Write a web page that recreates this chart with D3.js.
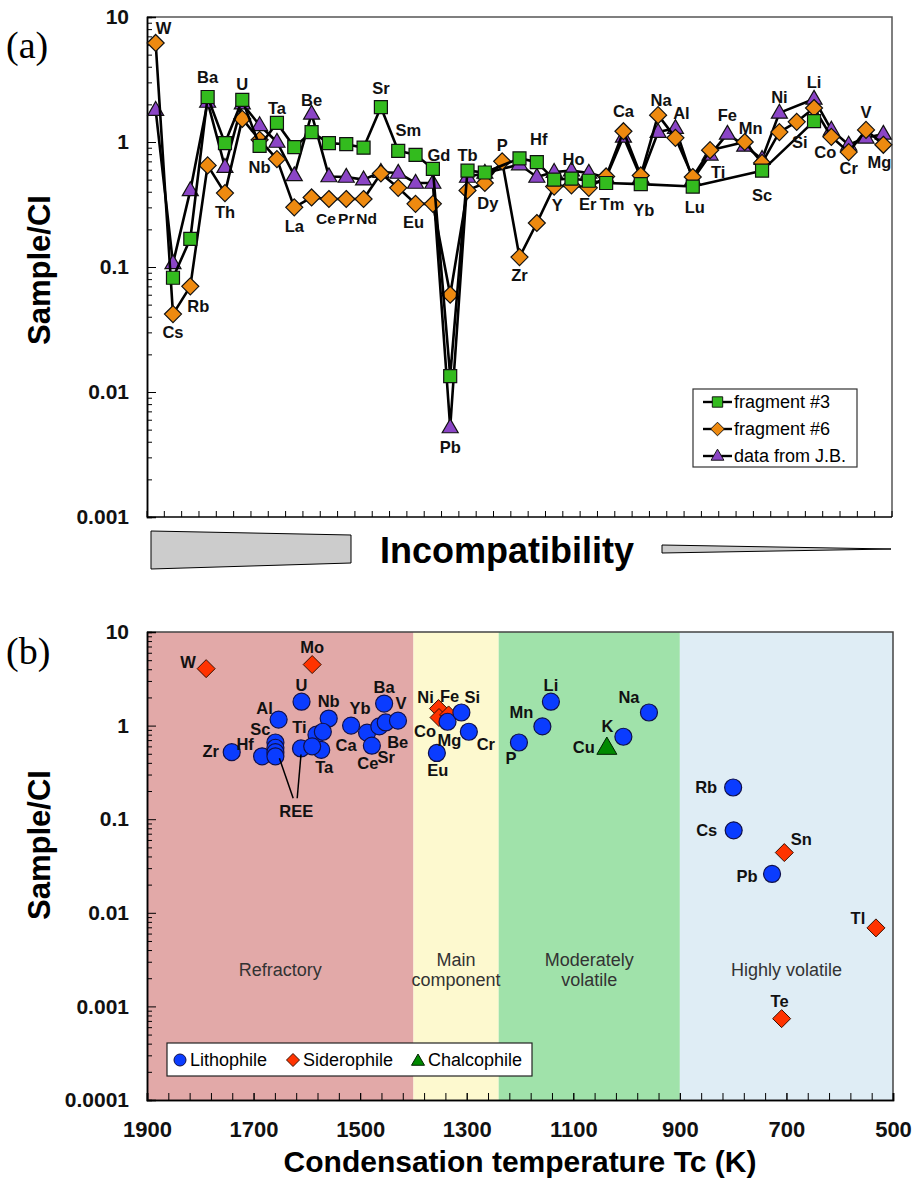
<!DOCTYPE html>
<html lang="en">
<head>
<meta charset="utf-8">
<style>
  body { margin: 0; background: #fff; }
  svg { font-family: "Liberation Sans", Arial, Helvetica, sans-serif; }
  .elab { font-size: 16.5px; font-weight: bold; fill: #111; }
  .ytick text, .xtick text { font-weight: bold; fill: #111; font-family: "Liberation Sans", Arial, sans-serif; }
  .domain { stroke: #000; stroke-width: 1.5px; }
  .tick line { stroke: #000; }
  .series-line { fill: none; stroke: #000; stroke-width: 2.6px; stroke-linejoin: round; }
  .region-label { font-size: 18px; fill: #333; }
</style>
</head>
<body>
<svg width="915" height="1178"></svg>
<script src="https://d3js.org/d3.v7.min.js"></script>
<script>

// ---------- panel (a): elements ordered by incompatibility ----------
var elements = ["W","Cs","Rb","Ba","Th","U","Nb","Ta","La","Be","Ce","Pr","Nd","Sr","Sm","Eu","Gd","Pb","Tb","Dy",
                "P","Zr","Hf","Y","Ho","Er","Tm","Ca","Yb","Na","Al","Lu","Ti","Fe","Mn","Sc","Ni","Si","Li","Co","Cr","V","Mg"];

var frag3 = [null,0.082,0.168,2.29,0.98,2.17,0.93,1.42,0.91,1.2,0.98,0.96,0.9,1.9,0.85,0.79,0.61,0.0134,0.59,0.57,
             null,0.74,0.69,0.50,0.51,0.49,0.47,null,0.46,null,null,0.44,null,null,null,0.59,null,null,1.47,null,null,null,null];

var frag6 = [6.2,0.042,0.07,0.65,0.39,1.53,1.04,0.73,0.30,0.36,0.35,0.35,0.35,0.56,0.43,0.32,0.32,0.06,0.41,0.47,
             0.70,0.12,0.225,0.44,0.45,0.43,0.53,1.22,0.54,1.64,1.08,0.525,0.86,null,1.0,0.68,1.2,1.45,1.87,1.1,0.83,1.25,0.95];

var jbData = [1.8,0.107,0.41,2.09,0.63,2.03,1.36,1.0,0.54,1.68,0.53,0.525,0.5,0.575,0.565,0.47,0.47,0.0052,0.525,0.565,
              null,0.66,0.525,0.575,0.59,0.565,0.52,1.1,0.52,1.2,1.29,0.5,0.79,1.16,0.93,0.73,1.71,null,2.21,1.25,0.95,1.08,1.16];

var seriesNames = ["fragment #3","fragment #6","data from J.B."];
var yTicksA = [10,1,0.1,0.01,0.001];
var yTickLabelsA = ["10","1","0.1","0.01","0.001"];

// ---------- panel (b): condensation temperature ----------
var lithoNames = ["Zr","Hf","Sc","Al","U","Ti","Nb","Ta","Ca","Yb","Ce","Sr","Ba","Be","V",
                  "REE","REE","REE","REE","REE","REE",
                  "Eu","Mg","Si","Cr","P","Mn","Li","K","Na","Rb","Cs","Pb"];
var lithoTc =    [1741,1684,1659,1653,1610,1582,1559,1573,1517,1487,1478,1464,1455,1452,1429,
                  1659,1659,1659,1611,1590,1570,
                  1356,1336,1310,1296,1202,1158,1142,1006,958,800,799,727];
var lithoVal =   [0.52,0.47,0.66,1.16,1.8,0.80,1.19,0.55,1.0,0.84,0.61,0.98,1.72,1.08,1.13,
                  0.58,0.52,0.47,0.57,0.60,0.86,
                  0.51,1.1,1.38,0.86,0.66,0.98,1.8,0.76,1.38,0.218,0.076,0.026];

var sideroNames = ["W","Mo","Ni","Co","Fe","Sn","Te","Tl"];
var sideroTc =    [1789,1590,1353,1352,1334,704,709,532];
var sideroVal =   [4.06,4.49,1.52,1.22,1.3,0.044,0.00074,0.0069];

var chalcoNames = ["Cu"];
var chalcoTc =    [1037];
var chalcoVal =   [0.58];

var regionNames = [["Refractory"],["Main","component"],["Moderately","volatile"],["Highly volatile"]];
var regionBounds = [[1900,1400],[1400,1240],[1240,900],[900,500]];
var regionColors = ["#e2a9a8","#fdf9cf","#a0e2aa","#dfedf5"];
var tempTicks = [1900,1700,1500,1300,1100,900,700,500];
var yTicksB = [10,1,0.1,0.01,0.001,0.0001];
var yTickLabelsB = ["10","1","0.1","0.01","0.001","0.0001"];
var groupNames = ["Lithophile","Siderophile","Chalcophile"];

// ---------- shapes ----------
function square(s) { return "M" + (-s) + "," + (-s) + "h" + 2*s + "v" + 2*s + "h" + (-2*s) + "Z"; }
function diamond(s) { return "M0," + (-s) + "L" + s + ",0L0," + s + "L" + (-s) + ",0Z"; }
function triangle(s) { var h = s * 1.732; return "M0," + (-h*0.62) + "L" + s + "," + (h*0.38) + "L" + (-s) + "," + (h*0.38) + "Z"; }

var svg = d3.select("svg");

// =====================================================================
// panel (a)
// =====================================================================
var xA = d3.scaleBand().domain(elements).range([147, 892]);
var yA = d3.scaleLog().domain([0.001, 10]).range([517, 17]);
function cx(e) { return xA(e) + xA.bandwidth() / 2; }

var gA = svg.append("g");

// frame (top/right)
gA.append("path").attr("d", "M147,17H892V517").attr("fill", "none").attr("stroke", "#555").attr("stroke-width", 1.5);

// y axis
var minorA = yA.ticks().filter(function (v) { return yTicksA.indexOf(v) < 0; });
gA.append("g").attr("class", "ytick").attr("transform", "translate(147,0)")
    .call(d3.axisLeft(yA).tickValues(minorA).tickSize(-5).tickFormat(""));
gA.append("g").attr("class", "ytick").attr("transform", "translate(147,0)")
    .call(d3.axisLeft(yA).tickValues(yTicksA).tickSize(-9).tickPadding(18)
        .tickFormat(function (d, i) { return yTickLabelsA[i]; }))
    .selectAll("text").style("font-size", "21px");

// x axis (ticks at category boundaries)
var bounds = elements.map(function (e) { return xA(e); }).concat([892]);
var gx = gA.append("g").attr("transform", "translate(0,517)");
gx.append("line").attr("x1", 147).attr("x2", 892).attr("stroke", "#000").attr("stroke-width", 1.5);
gx.selectAll("line.t").data(bounds).enter().append("line").attr("class", "t")
    .attr("x1", function (d) { return d; }).attr("x2", function (d) { return d; })
    .attr("y1", 0).attr("y2", -6).attr("stroke", "#000");

var seriesA = [
    { name: seriesNames[2], values: jbData, fill: "#8b45c6", shape: function () { return triangle(8); } },
    { name: seriesNames[1], values: frag6, fill: "#ee8a10", shape: function () { return diamond(8.5); } },
    { name: seriesNames[0], values: frag3, fill: "#33bb1e", shape: function () { return square(6.5); } }
];

var lineA = d3.line().x(function (d) { return cx(d.e); }).y(function (d) { return yA(d.v); });

seriesA.forEach(function (s) {
    var pts = elements.map(function (e, i) { return { e: e, v: s.values[i] }; })
        .filter(function (d) { return d.v != null; });
    gA.append("path").datum(pts).attr("class", "series-line").attr("d", lineA);
    gA.append("g").selectAll("path").data(pts).enter().append("path")
        .attr("transform", function (d) { return "translate(" + cx(d.e) + "," + yA(d.v) + ")"; })
        .attr("d", s.shape())
        .attr("fill", s.fill).attr("stroke", "#111").attr("stroke-width", 1.2);
});

// element labels: [dx, dy]; negative dy -> above highest point, positive -> below lowest
var labelPlaceA = {
    W:[8,-9], Cs:[0,24], Rb:[8,26], Ba:[0,-14], Th:[0,25], U:[0,-10], Nb:[0,27], Ta:[0,-9], La:[0,25],
    Be:[0,-8], Ce:[-3,25], Pr:[0,25], Nd:[3,25], Sr:[0,-13], Sm:[10,-15], Eu:[-2,24], Gd:[6,-8], Pb:[0,26],
    Tb:[0,-10], Dy:[3,26], P:[0,-10], Zr:[0,24], Hf:[2,-17], Y:[3,24], Ho:[2,-6], Er:[-1,22], Tm:[6,27],
    Ca:[0,-14], Yb:[3,32], Na:[3,-9], Al:[6,-9], Lu:[2,26], Ti:[8,23], Fe:[0,-13], Mn:[6,-8], Sc:[0,30],
    Ni:[0,-10], Si:[3,26], Li:[0,-11], Co:[-6,21], Cr:[0,22], V:[0,-12], Mg:[-4,23]
};
var tightA = ["Ce","Pr","Nd"];
gA.append("g").selectAll("text").data(elements).enter().append("text")
    .attr("class", "elab").attr("text-anchor", "middle")
    .style("font-size", function (e) { return tightA.indexOf(e) >= 0 ? "15.5px" : null; })
    .attr("x", function (e) { return cx(e) + labelPlaceA[e][0]; })
    .attr("y", function (e, i) {
        var vals = [frag3[i], frag6[i], jbData[i]].filter(function (v) { return v != null; });
        var off = labelPlaceA[e][1];
        return (off < 0 ? yA(d3.max(vals)) : yA(d3.min(vals))) + off;
    })
    .text(function (e) { return e; });

// legend (a)
var legA = gA.append("g");
legA.append("rect").attr("x", 693).attr("y", 389).attr("width", 164).attr("height", 78)
    .attr("fill", "#fff").attr("stroke", "#333").attr("stroke-width", 1.2);
[seriesA[2], seriesA[1], seriesA[0]].forEach(function (s, i) {
    var yy = 402 + i * 27;
    legA.append("line").attr("x1", 703).attr("x2", 732).attr("y1", yy).attr("y2", yy)
        .attr("stroke", "#000").attr("stroke-width", 2.4);
    legA.append("path").attr("transform", "translate(717.5," + yy + ") scale(0.8)")
        .attr("d", s.shape()).attr("fill", s.fill).attr("stroke", "#111").attr("stroke-width", 1.2);
    legA.append("text").attr("x", 734).attr("y", yy + 6).style("font-size", "18px").text(s.name);
});

// y title and panel tag
svg.append("text").attr("transform", "translate(50,270) rotate(-90)").attr("text-anchor", "middle")
    .style("font-size", "31px").style("font-weight", "bold").text("Sample/CI");
svg.append("text").attr("x", 6).attr("y", 58).style("font-family", "'Liberation Serif', 'Times New Roman', serif")
    .style("font-size", "38px").text("(a)");

// incompatibility arrow
svg.append("path").attr("d", "M151,531L351,535L351,563L151,569Z").attr("fill", "#cccccc").attr("stroke", "#000").attr("stroke-width", 1);
svg.append("path").attr("d", "M662,545L891,549L662,553Z").attr("fill", "#cccccc").attr("stroke", "#000").attr("stroke-width", 1);
svg.append("text").attr("x", 507).attr("y", 563).attr("text-anchor", "middle")
    .style("font-size", "36px").style("font-weight", "bold").text("Incompatibility");

// =====================================================================
// panel (b)
// =====================================================================
var xB = d3.scaleLinear().domain([1900, 500]).range([147, 893]);
var yB = d3.scaleLog().domain([0.0001, 10]).range([1100, 632]);
var gB = svg.append("g");

gB.selectAll("rect.region").data(regionBounds).enter().append("rect").attr("class", "region")
    .attr("x", function (d) { return xB(d[0]); })
    .attr("width", function (d) { return xB(d[1]) - xB(d[0]); })
    .attr("y", 632).attr("height", 468)
    .attr("fill", function (d, i) { return regionColors[i]; });

gB.append("path").attr("d", "M147,632H893V1100").attr("fill", "none").attr("stroke", "#444").attr("stroke-width", 1.5);

var minorB = yB.ticks().filter(function (v) { return yTicksB.indexOf(v) < 0; });
gB.append("g").attr("class", "ytick").attr("transform", "translate(147,0)")
    .call(d3.axisLeft(yB).tickValues(minorB).tickSize(-5).tickFormat(""));
gB.append("g").attr("class", "ytick").attr("transform", "translate(147,0)")
    .call(d3.axisLeft(yB).tickValues(yTicksB).tickSize(-9).tickPadding(18)
        .tickFormat(function (d, i) { return yTickLabelsB[i]; }))
    .selectAll("text").style("font-size", "21px");

gB.append("g").attr("class", "xtick").attr("transform", "translate(0,1100)")
    .call(d3.axisBottom(xB).tickValues(d3.range(1900, 499, -40)).tickSize(-7).tickFormat(""));
gB.append("g").attr("class", "xtick").attr("transform", "translate(0,1100)")
    .call(d3.axisBottom(xB).tickValues(tempTicks).tickSize(-7).tickPadding(21).tickFormat(d3.format("d")))
    .selectAll("text").style("font-size", "22px");

// region labels
regionNames.forEach(function (lines, i) {
    var mid = (xB(regionBounds[i][0]) + xB(regionBounds[i][1])) / 2;
    var t = gB.append("text").attr("class", "region-label").attr("text-anchor", "middle")
        .attr("x", mid).attr("y", lines.length > 1 ? 966 : 976);
    lines.forEach(function (l, j) {
        t.append("tspan").attr("x", mid).attr("dy", j === 0 ? 0 : 20).text(l);
    });
});

// points
function pts(names, tc, val) { return names.map(function (n, i) { return { n: n, t: tc[i], v: val[i] }; }); }
var sidero = pts(sideroNames, sideroTc, sideroVal);
var litho = pts(lithoNames, lithoTc, lithoVal);
var chalco = pts(chalcoNames, chalcoTc, chalcoVal);

gB.append("g").selectAll("path").data(sidero).enter().append("path")
    .attr("transform", function (d) { return "translate(" + xB(d.t) + "," + yB(d.v) + ")"; })
    .attr("d", diamond(9)).attr("fill", "#ff3300").attr("stroke", "#3a1000").attr("stroke-width", 1);
gB.append("g").selectAll("circle").data(litho).enter().append("circle")
    .attr("cx", function (d) { return xB(d.t); }).attr("cy", function (d) { return yB(d.v); })
    .attr("r", 8.5).attr("fill", "#0a3cff").attr("stroke", "#10104a").attr("stroke-width", 1.2);
gB.append("g").selectAll("path").data(chalco).enter().append("path")
    .attr("transform", function (d) { return "translate(" + xB(d.t) + "," + yB(d.v) + ")"; })
    .attr("d", triangle(10)).attr("fill", "#008a00").attr("stroke", "#002200").attr("stroke-width", 1);

// point labels: centre offsets
var labelPlaceB = {
    W:[-18,-7], Mo:[0,-17], U:[0,-17], Al:[-14,-12], Sc:[-15,-13], Hf:[-17,-12], Zr:[-21,-1], Ti:[-17,-8],
    Nb:[0,-17], Ta:[3,17], Ca:[-5,19], Yb:[-7,-25], Ce:[-4,17], Sr:[7,31], Be:[12,20], Ba:[0,-16], V:[3,-18],
    Ni:[-13,-12], Fe:[1,-19], Si:[11,-15], Co:[-14,14], Mg:[2,18], Cr:[17,12], Eu:[1,17], P:[-8,16],
    Mn:[-21,-14], Li:[0,-17], K:[-16,-11], Cu:[-23,-1], Na:[-20,-15], Rb:[-27,0], Cs:[-27,0], Sn:[17,-14],
    Pb:[-25,2], Tl:[-18,-10], Te:[-2,-18]
};
var labelled = sidero.concat(litho, chalco).filter(function (d) { return labelPlaceB[d.n]; });
gB.append("g").selectAll("text").data(labelled).enter().append("text")
    .attr("class", "elab").attr("text-anchor", "middle").attr("dy", "0.36em")
    .attr("x", function (d) { return xB(d.t) + labelPlaceB[d.n][0]; })
    .attr("y", function (d) { return yB(d.v) + labelPlaceB[d.n][1]; })
    .text(function (d) { return d.n; });

// REE callout
var ree = litho.filter(function (d) { return d.n === "REE"; });
var reeLow = ree.filter(function (d) { return d.t === 1659; });
var reeMid = ree.filter(function (d) { return d.t === 1611; });
var rx = xB(1620), ry = yB(d3.min(reeLow, function (d) { return d.v; })) + 55;
gB.append("line").attr("x1", rx - 3).attr("y1", ry - 13).attr("x2", xB(1659) + 4).attr("y2", yB(d3.min(reeLow, function (d) { return d.v; })) + 2)
    .attr("stroke", "#000").attr("stroke-width", 1.5);
gB.append("line").attr("x1", rx + 1).attr("y1", ry - 13).attr("x2", xB(1611)).attr("y2", yB(reeMid[0].v) + 6)
    .attr("stroke", "#000").attr("stroke-width", 1.5);
gB.append("text").attr("class", "elab").attr("text-anchor", "middle").attr("x", rx).attr("y", ry + 6).text("REE");

// legend (b)
var legB = gB.append("g");
legB.append("rect").attr("x", 167).attr("y", 1043).attr("width", 365).attr("height", 33)
    .attr("fill", "#fff").attr("stroke", "#222").attr("stroke-width", 1.2);
var legX = [180, 293, 418];
legB.append("circle").attr("cx", legX[0]).attr("cy", 1060).attr("r", 6).attr("fill", "#0a3cff").attr("stroke", "#10104a");
legB.append("path").attr("transform", "translate(" + legX[1] + ",1060)").attr("d", diamond(6.5)).attr("fill", "#ff3300").attr("stroke", "#3a1000");
legB.append("path").attr("transform", "translate(" + legX[2] + ",1061)").attr("d", triangle(6.5)).attr("fill", "#008a00").attr("stroke", "#002200");
groupNames.forEach(function (g, i) {
    legB.append("text").attr("x", legX[i] + 10).attr("y", 1066).style("font-size", "18px").text(g);
});

svg.append("text").attr("transform", "translate(50,845) rotate(-90)").attr("text-anchor", "middle")
    .style("font-size", "31px").style("font-weight", "bold").text("Sample/CI");
svg.append("text").attr("x", 6).attr("y", 664).style("font-family", "'Liberation Serif', 'Times New Roman', serif")
    .style("font-size", "38px").text("(b)");
svg.append("text").attr("x", 520).attr("y", 1172).attr("text-anchor", "middle")
    .style("font-size", "30px").style("font-weight", "bold").text("Condensation temperature Tc (K)");

</script>
</body>
</html>
